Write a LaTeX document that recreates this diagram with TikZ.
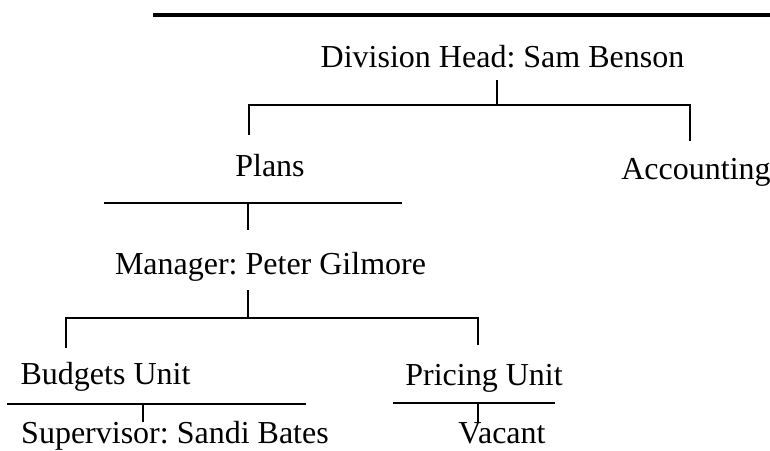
\documentclass[tikz,border=0pt]{standalone}
\usepackage{fontspec}
\setmainfont{Liberation Serif}
\frenchspacing

\tikzset{
	unit/.style={anchor=base, inner sep=0pt, font=\fontsize{32}{36}\selectfont},
	bar/.style={line width=2.7pt},
	topbar/.style={line width=3.2pt}
}

\begin{document}
\begin{tikzpicture}[x=1pt, y=-1pt]

\useasboundingbox (0,0) rectangle (770,450);

% Define coordinates.

	%top rule
	\coordinate (topL) at (153, 15);
	\coordinate (topR) at (770, 15);

	%division head
	\node[unit] (head) at (502.5, 67) {Division Head: Sam Benson};
	\coordinate (headStem) at (497, 80);
	\coordinate (divL) at (249, 105);
	\coordinate (divR) at (690, 105);
	\coordinate (plansTop) at (249, 135);
	\coordinate (acctTop) at (690, 141);

	%plans and accounting
	\node[unit] (plans) at (270, 176) {Plans};
	\node[unit] (acct) at (696, 179) {Accounting};
	\coordinate (plansL) at (104, 203);
	\coordinate (plansR) at (402, 203);
	\coordinate (plansStem) at (248, 230);

	%manager
	\node[unit] (mgr) at (270.5, 274) {Manager: Peter Gilmore};
	\coordinate (mgrStem) at (248, 290);
	\coordinate (mgrL) at (66, 318);
	\coordinate (mgrR) at (478, 318);
	\coordinate (budgTop) at (66, 348);
	\coordinate (priceTop) at (478, 345);

	%units
	\node[unit] (budg) at (105.5, 384) {Budgets Unit};
	\node[unit] (price) at (484, 385) {Pricing Unit};
	\coordinate (budgL) at (7, 404);
	\coordinate (budgR) at (306, 404);
	\coordinate (budgStem) at (143, 422);
	\coordinate (priceL) at (393, 403);
	\coordinate (priceR) at (555, 403);
	\coordinate (priceStem) at (478, 422);

	%supervisors
	\node[unit] (sup) at (175, 443) {Supervisor: Sandi Bates};
	\node[unit] (vac) at (502, 443) {Vacant};

% Draw lines.

	\draw[topbar] (topL) -- (topR);

	\draw[bar] (headStem) -- (headStem |- divL);
	\draw[bar] (plansTop) -- (divL) -- (divR) -- (acctTop);

	\draw[bar] (plansL) -- (plansR);
	\draw[bar] (plansStem |- plansL) -- (plansStem);

	\draw[bar] (mgrStem) -- (mgrStem |- mgrL);
	\draw[bar] (budgTop) -- (mgrL) -- (mgrR) -- (priceTop);

	\draw[bar] (budgL) -- (budgR);
	\draw[bar] (budgStem |- budgL) -- (budgStem);

	\draw[bar] (priceL) -- (priceR);
	\draw[bar] (priceStem |- priceL) -- (priceStem);

\end{tikzpicture}
\end{document}
